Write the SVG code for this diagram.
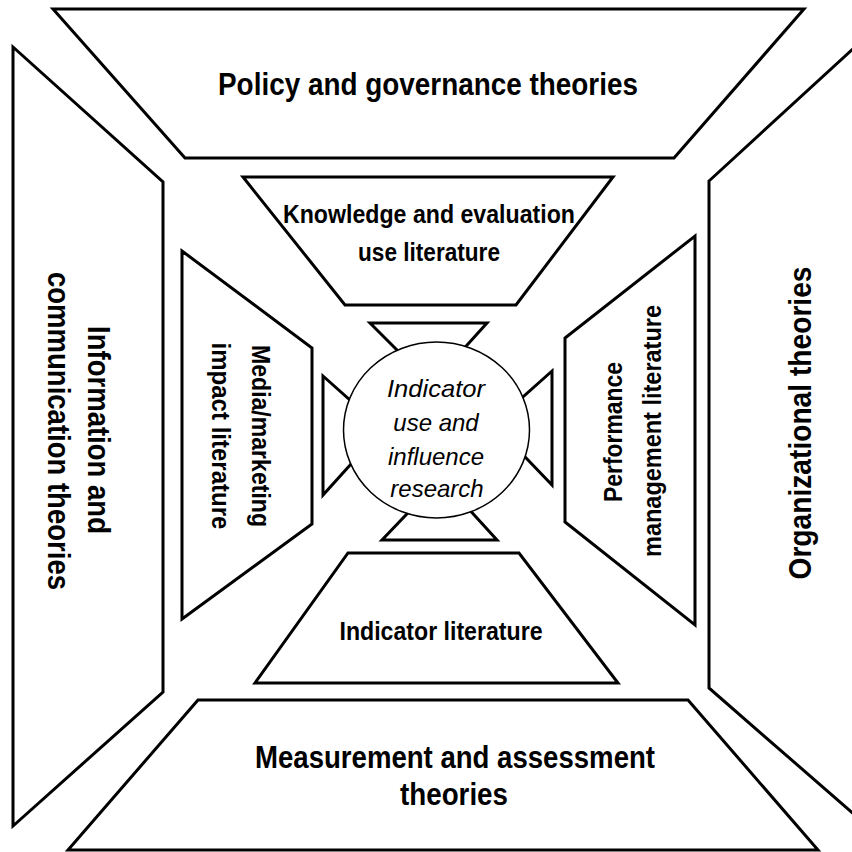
<svg xmlns="http://www.w3.org/2000/svg" width="852" height="852" viewBox="0 0 852 852">
<style>
.sh{fill:#fff;stroke:#000;stroke-width:3;stroke-linejoin:miter}
.big{font-family:"Liberation Sans",Arial,sans-serif;font-weight:bold;font-size:31px;fill:#000}
.med{font-family:"Liberation Sans",Arial,sans-serif;font-weight:bold;font-size:25px;fill:#000}
.ctr{font-family:"Liberation Sans",Arial,sans-serif;font-style:italic;font-size:24px;fill:#000;text-anchor:middle}
</style>
<rect width="852" height="852" fill="#fff"/>
<g id="policy">
<polygon class="sh" points="53,9 804,9 674,158 185,158"/>
<text class="big" x="428" y="95" text-anchor="middle" textLength="420" lengthAdjust="spacingAndGlyphs">Policy and governance theories</text>
</g>
<g id="information">
<polygon class="sh" points="13,47 163,182 163,692 13,826"/>
<text class="big" transform="translate(88,430) rotate(90)" text-anchor="middle" textLength="208" lengthAdjust="spacingAndGlyphs">Information and</text>
<text class="big" transform="translate(48,431) rotate(90)" text-anchor="middle" textLength="318" lengthAdjust="spacingAndGlyphs">communication theories</text>
</g>
<g id="organizational">
<polygon class="sh" points="709,181 856,46 856,816 709,688"/>
<text class="big" transform="translate(811,423) rotate(-90)" text-anchor="middle" textLength="313" lengthAdjust="spacingAndGlyphs">Organizational theories</text>
</g>
<g id="measurement">
<polygon class="sh" points="198,700 688,700 818,850 68,850"/>
<text class="big" x="455" y="768" text-anchor="middle" textLength="400" lengthAdjust="spacingAndGlyphs">Measurement and assessment</text>
<text class="big" x="454" y="805" text-anchor="middle" textLength="108" lengthAdjust="spacingAndGlyphs">theories</text>
</g>
<g id="knowledge">
<polygon class="sh" points="243,177 613,177 516,305 345,305"/>
<text class="med" x="429" y="223" text-anchor="middle" textLength="292" lengthAdjust="spacingAndGlyphs">Knowledge and evaluation</text>
<text class="med" x="429" y="261" text-anchor="middle" textLength="142" lengthAdjust="spacingAndGlyphs">use literature</text>
</g>
<g id="media">
<polygon class="sh" points="182,251 312,348 312,524 182,619"/>
<text class="med" transform="translate(252,436) rotate(90)" text-anchor="middle" textLength="182" lengthAdjust="spacingAndGlyphs">Media/marketing</text>
<text class="med" transform="translate(212,436) rotate(90)" text-anchor="middle" textLength="187" lengthAdjust="spacingAndGlyphs">impact literature</text>
</g>
<g id="performance">
<polygon class="sh" points="695,236 695,625 565,522 565,338"/>
<text class="med" transform="translate(622,432) rotate(-90)" text-anchor="middle" textLength="140" lengthAdjust="spacingAndGlyphs">Performance</text>
<text class="med" transform="translate(661,431) rotate(-90)" text-anchor="middle" textLength="252" lengthAdjust="spacingAndGlyphs">management literature</text>
</g>
<g id="indicator-literature">
<polygon class="sh" points="348,553 519,553 618,683 255,683"/>
<text class="med" x="441" y="640" text-anchor="middle" textLength="203" lengthAdjust="spacingAndGlyphs">Indicator literature</text>
</g>
<g id="connectors">
<polygon class="sh" points="370,323 487,323 449,365 412,365"/>
<polygon class="sh" points="382,540 497,540 456,495 425,495"/>
<polygon class="sh" points="323,376 370,418 370,443 323,495"/>
<polygon class="sh" points="552,371 505,413 505,436 552,485"/>
</g>
<g id="center">
<ellipse cx="436.5" cy="430" rx="93" ry="88" fill="#fff" stroke="#000" stroke-width="1.5"/>
<text class="ctr" x="436" y="397" textLength="98" lengthAdjust="spacingAndGlyphs">Indicator</text>
<text class="ctr" x="436" y="431">use and</text>
<text class="ctr" x="436" y="465">influence</text>
<text class="ctr" x="437" y="497">research</text>
</g>
</svg>
